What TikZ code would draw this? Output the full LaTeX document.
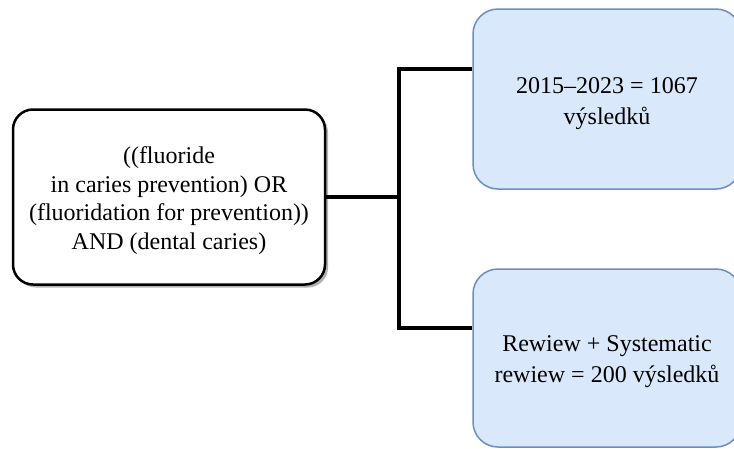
\documentclass[tikz,border=0pt]{standalone}
\usepackage{fontspec}
\setmainfont{Liberation Serif}
\usetikzlibrary{shadows,calc}
\definecolor{bluefill}{HTML}{DAE8FC}
\definecolor{blueline}{HTML}{6C8EBF}
\newcommand{\boxtext}[2]{\raisebox{#1}[\height][\depth]{\begin{tabular}{@{}c@{}}#2\end{tabular}}}
\begin{document}
\begin{tikzpicture}[x=1pt,y=-1pt,
  querybox/.style={draw=black, line width=2.5pt, fill=white, rounded corners=20pt,
    minimum width=312pt, minimum height=175pt, align=center, inner sep=0pt,
    font=\fontsize{24}{28.5}\selectfont,
    drop shadow={shadow xshift=3pt, shadow yshift=-3pt, fill=black!30, opacity=1}},
  resultbox/.style={draw=blueline, line width=1.5pt, fill=bluefill, rounded corners=25pt,
    minimum width=268pt, align=center, inner sep=0pt,
    font=\fontsize{24}{31}\selectfont},
  conn/.style={draw=black, line width=4pt}]
\useasboundingbox (0,0) rectangle (734,448);
\node[querybox] (L) at (169,197) {\boxtext{-4pt}{((fluoride\\in caries prevention) OR\\(fluoridation for prevention))\\AND (dental caries)}};
\node[resultbox, minimum height=180pt] (T) at (607,99) {\boxtext{-4pt}{2015–2023 = 1067\\výsledků}};
\node[resultbox, minimum height=178pt] (B) at (607,358) {\boxtext{-3pt}{Rewiew + Systematic\\rewiew = 200 výsledků}};
\coordinate (Tin) at ($(T.north west)!0.333!(T.south west)$);
\coordinate (Bin) at ($(B.north west)!0.333!(B.south west)$);
\path (L.east) ++(73,0) coordinate (j);
\draw[conn] (L.east) -- (j);
\draw[conn] (Tin) -| (j) |- (Bin);
\end{tikzpicture}
\end{document}
